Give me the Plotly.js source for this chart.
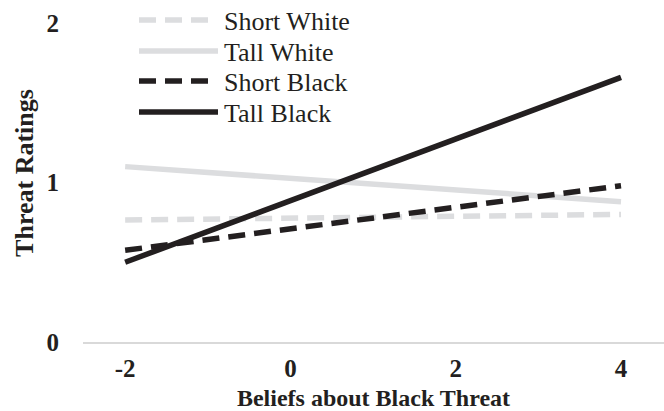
<!DOCTYPE html>
<html>
<head>
<meta charset="utf-8">
<script src="https://cdn.plot.ly/plotly-3.0.1.min.js"></script>
<style>html,body{margin:0;padding:0;background:#fff;}#chart{width:664px;height:411px;}</style>
</head>
<body>
<div id="chart"></div>
<script>
const xValues = [-2, 4];
const seriesNames = ["Short White", "Tall White", "Short Black", "Tall Black"];
const shortWhite = [0.765, 0.80];
const tallWhite = [1.10, 0.88];
const shortBlack = [0.575, 0.98];
const tallBlack = [0.50, 1.66];
const xTicks = [-2, 0, 2, 4];
const yTicks = [0, 1, 2];

const gray = "#dcdddf";
const black = "#231f20";
const styles = [
  {color: gray, dash: "17px,9px"},
  {color: gray, dash: "solid"},
  {color: black, dash: "17px,9px"},
  {color: black, dash: "solid"}
];
const seriesValues = [shortWhite, tallWhite, shortBlack, tallBlack];

const traces = seriesValues.map((v, i) => ({
  type: "scatter", mode: "lines", name: seriesNames[i],
  x: xValues, y: v,
  line: {color: styles[i].color, width: 5.5, dash: styles[i].dash},
  showlegend: false, hoverinfo: "skip"
}));

// manual legend (lines + labels in paper coords)
const W = 664, H = 411, ml = 83, mr = 0, mt = 4, mb = 69;
const pw = W - ml - mr, ph = H - mt - mb;
const px = x => (x - ml) / pw;
const py = y => 1 - (y - mt) / ph;
const rows = [20, 51, 81, 112];
const shapes = [], annotations = [];
rows.forEach((ry, i) => {
  shapes.push({type: "line", xref: "paper", yref: "paper",
    x0: px(139), x1: px(i % 2 === 0 ? 210 : 218), y0: py(ry), y1: py(ry),
    line: {color: styles[i].color, width: 5.5, dash: styles[i].dash}});
  annotations.push({xref: "paper", yref: "paper", x: px(222), y: py(ry + 1),
    xanchor: "left", yanchor: "middle", showarrow: false, text: seriesNames[i],
    font: {family: "Liberation Serif", size: 26, color: "#231f20"}});
});

const layout = {
  width: W, height: H,
  margin: {l: ml, r: mr, t: mt, b: mb},
  paper_bgcolor: "#fff", plot_bgcolor: "#fff",
  showlegend: false,
  font: {family: "Liberation Serif", color: "#231f20"},
  xaxis: {
    range: [-2.51, 4.52], tickvals: xTicks, ticktext: xTicks.map(String),
    showgrid: false, zeroline: false, showline: true, linecolor: "#d9d9d9", linewidth: 2,
    ticks: "", ticklabelstandoff: 3,
    tickfont: {family: "Liberation Serif", size: 25, color: "#231f20", weight: "bold"},
    title: {text: "<b>Beliefs about Black Threat</b>", font: {family: "Liberation Serif", size: 24, color: "#231f20"}, standoff: 8}
  },
  yaxis: {
    range: [0, 2.12], tickvals: yTicks, ticktext: yTicks.map(String),
    showgrid: false, zeroline: false, showline: false, ticks: "", ticklabelstandoff: 23,
    tickfont: {family: "Liberation Serif", size: 25, color: "#231f20", weight: "bold"},
    title: {text: "<b>Threat Ratings</b>", font: {family: "Liberation Serif", size: 26, color: "#231f20"}, standoff: 5}
  },
  shapes: shapes,
  annotations: annotations
};

Plotly.newPlot("chart", traces, layout, {displayModeBar: false, staticPlot: true});
</script>
</body>
</html>
